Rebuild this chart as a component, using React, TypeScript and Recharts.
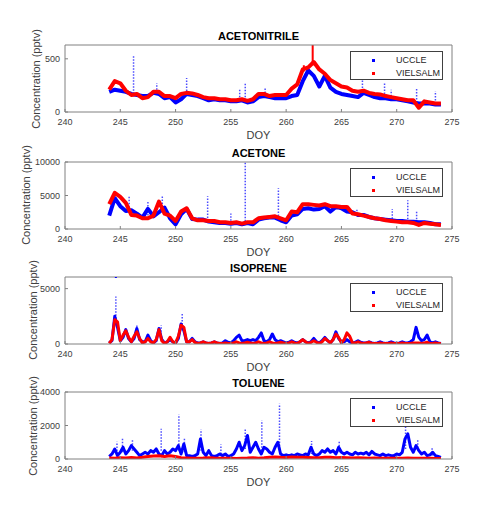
import React from 'react'
import { ComposedChart, Line, Scatter, XAxis, YAxis } from 'recharts'

// sampling grids (day of year)
const doyHalf = Array.from({ length: 61 }, (_, i) => 244 + i * 0.5)
const doyQuarter = Array.from({ length: 121 }, (_, i) => 244 + i * 0.25)
const xTicks = [240, 245, 250, 255, 260, 265, 270, 275]

// ACETONITRILE (pptv), 0.5 day steps
const acnUccle = [
  190, 210, 200, 190, 170, 160, 150, 150, 180, 170,
  130, 140, 90, 120, 170, 160, 150, 130, 110, 120,
  110, 110, 100, 100, 110, 90, 100, 140, 150, 140,
  130, 130, 130, 150, 160, 290, 390, 340, 240, 340,
  230, 190, 170, 160, 150, 140, 180, 160, 140, 130,
  130, 120, 120, 110, 100, 90, 80, 80, 80, 70,
  70,
]
const acnVielsalm = [
  210, 290, 270, 200, 160, 170, 130, 140, 190, 190,
  150, 150, 130, 170, 180, 175, 160, 140, 130, 130,
  120, 120, 110, 110, 120, 105, 120, 170, 170, 150,
  160, 160, 160, 220, 260, 400, 420, 470, 400, 360,
  300, 270, 240, 230, 200, 190, 200, 180, 170, 165,
  150, 140, 130, 120, 110, 110, 40, 100, 90, 80,
  80,
]
const acnSpikeDoy = [246.2, 248.3, 251.0, 255.8, 256.3, 258.1, 266.9, 268.9, 269.5, 271.8, 273.5]
const acnSpikeBase = [200, 180, 170, 110, 110, 150, 170, 140, 120, 90, 80]
const acnSpikeTop = [530, 270, 320, 215, 270, 230, 330, 270, 210, 225, 195]
const acnRedSpikeDoy = [261.6, 262.4]
const acnRedSpikeBase = [380, 450]
const acnRedSpikeTop = [440, 630]

// ACETONE (pptv), 0.5 day steps
const acetUccle = [
  2000, 4600, 3400, 2700, 2800, 2300, 1700, 3000, 1900, 2500,
  3200, 1600, 700, 2200, 3000, 1500, 1400, 1400, 1100, 1000,
  900, 900, 800, 900, 700, 900, 700, 1400, 1600, 1700,
  1700, 1300, 1000, 2000, 2200, 3000, 3100, 2900, 3000, 3400,
  2600, 3300, 3100, 2600, 2500, 2100, 2100, 1800, 1600, 1500,
  1400, 1300, 1200, 1200, 1100, 1100, 1000, 1000, 900, 700,
  700,
]
const acetVielsalm = [
  3700, 5400, 4800, 3900, 2100, 2000, 1600, 1600, 2000, 4100,
  2300, 2000, 1200, 2600, 3100, 1600, 1300, 1300, 1200, 1200,
  1000, 1000, 900, 1000, 800, 1000, 1000, 1600, 1700, 1800,
  1900, 1600, 1300, 2600, 2500, 3700, 3700, 3600, 3500, 3700,
  3400, 3400, 3300, 3300, 2300, 2200, 2000, 1800, 1600, 1500,
  1300, 1200, 1100, 1000, 1000, 900, 600, 900, 800, 700,
  600,
]
const acetSpikeDoy = [244.6, 245.8, 247.5, 248.8, 252.9, 255.0, 256.3, 259.3, 260.4, 266.4, 269.6, 271.0, 271.8]
const acetSpikeBase = [4000, 2800, 2000, 3300, 1200, 800, 700, 1500, 2000, 2200, 1100, 1000, 1000]
const acetSpikeTop = [4900, 4800, 4200, 5000, 4900, 2300, 10000, 6100, 2600, 3100, 3000, 4300, 2600]

// ISOPRENE (pptv), 0.25 day steps
const isoUccle = [
  100, 300, 2500, 1500, 300, 600, 1300, 500, 200, 500, 1400, 400,
  200, 200, 800, 300, 100, 300, 1400, 400, 100, 200, 400, 200,
  100, 500, 1800, 1200, 200, 200, 500, 200, 100, 100, 200, 100,
  50, 100, 200, 100, 50, 100, 300, 150, 100, 300, 600, 800,
  300, 300, 400, 300, 400, 300, 600, 1000, 300, 200, 400, 900,
  400, 200, 300, 200, 100, 150, 300, 150, 100, 200, 400, 200,
  100, 200, 500, 200, 100, 300, 600, 300, 100, 400, 1100, 500,
  200, 200, 400, 200, 100, 150, 300, 150, 100, 100, 200, 100,
  50, 100, 200, 100, 50, 100, 200, 100, 50, 100, 200, 100,
  100, 200, 400, 1500, 600, 300, 400, 800, 200, 100, 200, 100,
  50,
]
const isoVielsalm = [
  50, 400, 2200, 2000, 300, 800, 1200, 600, 200, 700, 1100, 500,
  100, 200, 500, 200, 100, 400, 1300, 300, 50, 200, 600, 200,
  100, 700, 1700, 1500, 200, 200, 400, 150, 50, 100, 200, 100,
  50, 100, 200, 100, 50, 50, 100, 50, 50, 100, 200, 100,
  50, 100, 150, 100, 50, 100, 200, 100, 50, 100, 200, 100,
  50, 100, 150, 100, 50, 100, 200, 100, 50, 200, 400, 200,
  50, 150, 300, 150, 50, 200, 500, 300, 100, 400, 900, 600,
  100, 400, 1000, 700, 100, 100, 200, 100, 50, 100, 150, 50,
  50, 50, 100, 50, 50, 50, 100, 50, 50, 50, 100, 50,
  50, 50, 100, 100, 100, 50, 100, 150, 50, 50, 100, 50,
  50,
]
const isoSpikeDoy = [244.6, 246.5, 248.7, 250.6]
const isoSpikeBase = [2000, 1000, 1100, 1500]
const isoSpikeTop = [4300, 1700, 1700, 2700]
const isoOutlierDoy = [244.6]
const isoOutlierValue = [6050]

// TOLUENE (pptv)
const tolUccle = [
  150, 300, 600, 200, 400, 700, 300, 500, 800, 600, 400, 200,
  300, 400, 300, 500, 400, 600, 300, 200, 500, 300, 400, 600,
  500, 800, 300, 900, 200, 200, 150, 200, 300, 1200, 400, 200,
  500, 200, 150, 200, 300, 200, 300, 150, 200, 300, 600, 1000,
  500, 800, 1400, 400, 700, 1000, 600, 300, 700, 600, 400, 300,
  700, 1000, 300, 200, 250, 200, 250, 200, 300, 250, 200, 300,
  250, 700, 300, 200, 300, 500, 400, 600, 400, 500, 300, 700,
  400, 300, 400, 300, 250, 400, 300, 350, 300, 400, 250, 450,
  300, 250, 200, 300, 200, 250, 200, 200, 300, 250, 400, 1200,
  1500, 700, 400, 800, 500, 300, 400, 200, 250, 400, 200, 150,
  100,
]
const tolVielsalm = [
  60, 50, 80, 60, 90, 60, 100, 150, 180, 200,
  150, 200, 150, 80, 60, 40, 50, 60, 80, 60,
  50, 40, 50, 30, 50, 60, 80, 50, 70, 100,
  120, 100, 90, 120, 100, 110, 90, 70, 80, 100,
  110, 80, 90, 80, 60, 70, 60, 50, 60, 50,
  40, 50, 40, 50, 60, 50, 40, 50, 40, 30,
  30,
]
const tolSpikeDoy = [244.7, 245.2, 246.1, 248.7, 250.3, 250.8, 252.3, 254.1, 256.3, 257.8, 259.4, 262.3, 264.8, 270.8, 271.9, 273.2]
const tolSpikeBase = [300, 400, 500, 500, 500, 400, 500, 300, 600, 500, 600, 300, 400, 600, 500, 200]
const tolSpikeTop = [1030, 1270, 1130, 1800, 2650, 1270, 1760, 870, 1760, 2300, 3300, 1070, 1070, 2250, 1170, 700]

const BLUE = '#0000ff'
const RED = '#ff0000'
const FONT = '"Liberation Sans", Arial, Helvetica, sans-serif'
const PLOT_LEFT = 65
const PLOT_W = 387
const PLOT_H = 67
const MT = 25
const MB = 20
const CH = MT + PLOT_H + MB

type Pt = { doy: number; value: number | null }

const toPoints = (xs: number[], ys: number[]): Pt[] => xs.map((x, i) => ({ doy: x, value: ys[i] }))
const toSpikes = (xs: number[], bases: number[], tops: number[]): Pt[] =>
  xs.flatMap((x, i) => [
    { doy: x, value: bases[i] },
    { doy: x, value: tops[i] },
    { doy: x, value: null },
  ])

interface PanelProps {
  top: number
  title: string
  yMax: number
  yTicks: number[]
  labelX: number
  uccle: Pt[]
  vielsalm: Pt[]
  uccleSpikes: Pt[]
  vielsalmSpikes?: Pt[]
  outliers?: Pt[]
  width?: number
}

function Panel({ top, title, yMax, yTicks, labelX, uccle, vielsalm, uccleSpikes, vielsalmSpikes = [], outliers = [], width = 4 }: PanelProps) {
  const axisColor = '#808080'
  const tickStyle = { fontSize: 9, fill: '#404040', fontFamily: FONT }
  return (
    <>
      <div
        style={{
          position: 'absolute', left: PLOT_LEFT, width: PLOT_W, top: top - 16, textAlign: 'center',
          fontWeight: 'bold', fontSize: 11, lineHeight: '14px', color: '#000', fontFamily: FONT,
        }}
      >
        {title}
      </div>
      <div
        style={{
          position: 'absolute', left: labelX - 60, top: top + PLOT_H / 2 - 7, width: 120, height: 14, textAlign: 'center',
          fontSize: 11, lineHeight: '14px', color: '#404040', fontFamily: FONT, transform: 'rotate(-90deg)',
          whiteSpace: 'nowrap',
        }}
      >
        Concentration (pptv)
      </div>
      <div style={{ position: 'absolute', left: 0, top: top - MT, width: 500, height: CH }}>
        <ComposedChart width={500} height={CH} margin={{ top: MT - 1, right: 47, bottom: 0, left: 25 }}>
          <XAxis
            xAxisId="b" dataKey="doy" type="number" domain={[240, 275]} ticks={xTicks}
            allowDataOverflow height={MB} tickSize={-3} tickMargin={10}
            stroke={axisColor} tick={tickStyle} interval={0}
          />
          <XAxis
            xAxisId="t" orientation="top" dataKey="doy" type="number" domain={[240, 275]} ticks={xTicks}
            allowDataOverflow height={1} tickSize={-3} tick={false} stroke={axisColor} interval={0}
          />
          <YAxis
            yAxisId="l" type="number" domain={[0, yMax]} ticks={yTicks} allowDataOverflow
            width={40} tickSize={-3} tickMargin={8} stroke={axisColor} tick={tickStyle} interval={0}
          />
          <YAxis
            yAxisId="r" orientation="right" type="number" domain={[0, yMax]} ticks={yTicks} allowDataOverflow
            width={1} tickSize={-3} tick={false} stroke={axisColor} interval={0}
          />
          <Line
            xAxisId="b" yAxisId="l" data={uccleSpikes} dataKey="value" stroke={BLUE} strokeWidth={1.5}
            strokeDasharray="1.5 1.5" strokeOpacity={0.7} dot={false} isAnimationActive={false} activeDot={false}
          />
          <Line
            xAxisId="b" yAxisId="l" data={uccle} dataKey="value" stroke={BLUE} strokeWidth={width}
            strokeLinejoin="round" dot={false} isAnimationActive={false} activeDot={false}
          />
          <Line
            xAxisId="b" yAxisId="l" data={vielsalm} dataKey="value" stroke={RED} strokeWidth={width}
            strokeLinejoin="round" dot={false} isAnimationActive={false} activeDot={false}
          />
          <Line
            xAxisId="b" yAxisId="l" data={vielsalmSpikes} dataKey="value" stroke={RED} strokeWidth={2}
            dot={false} isAnimationActive={false} activeDot={false}
          />
          <Scatter
            xAxisId="b" yAxisId="l" data={outliers} dataKey="value" fill={BLUE} isAnimationActive={false}
            shape={(p: any) => <rect x={p.cx - 1} y={p.cy - 1} width={2} height={2} fill={BLUE} />}
          />
        </ComposedChart>
      </div>
      <div
        style={{
          position: 'absolute', left: PLOT_LEFT, width: PLOT_W, top: top + PLOT_H + 16, textAlign: 'center',
          fontSize: 11, lineHeight: '14px', color: '#404040', fontFamily: FONT,
        }}
      >
        DOY
      </div>
      <div
        style={{
          position: 'absolute', left: 350, top: top + 6, width: 91, height: 27, border: '1px solid #404040',
          background: '#fff', fontFamily: FONT, fontSize: 9, color: '#262626',
        }}
      >
        {[{ name: 'UCCLE', color: BLUE }, { name: 'VIELSALM', color: RED }].map((item, i) => (
          <div key={item.name} style={{ position: 'absolute', left: 0, top: 2 + i * 13, height: 12, width: 91 }}>
            <span style={{ position: 'absolute', left: 21, top: 5, width: 3, height: 3, background: item.color }} />
            <span style={{ position: 'absolute', left: 45, top: 0, lineHeight: '12px' }}>{item.name}</span>
          </div>
        ))}
      </div>
    </>
  )
}

export default function App() {
  return (
    <div style={{ position: 'absolute', left: 0, top: 0, width: 500, height: 527, background: '#fff', overflow: 'hidden' }}>
      <Panel
        top={45} title="ACETONITRILE" yMax={630} yTicks={[0, 500]} labelX={36}
        uccle={toPoints(doyHalf, acnUccle)} vielsalm={toPoints(doyHalf, acnVielsalm)}
        uccleSpikes={toSpikes(acnSpikeDoy, acnSpikeBase, acnSpikeTop)}
        vielsalmSpikes={toSpikes(acnRedSpikeDoy, acnRedSpikeBase, acnRedSpikeTop)}
      />
      <Panel
        top={161.5} title="ACETONE" yMax={10000} yTicks={[0, 5000, 10000]} labelX={26}
        uccle={toPoints(doyHalf, acetUccle)} vielsalm={toPoints(doyHalf, acetVielsalm)}
        uccleSpikes={toSpikes(acetSpikeDoy, acetSpikeBase, acetSpikeTop)}
      />
      <Panel
        top={276.5} title="ISOPRENE" yMax={6050} yTicks={[0, 5000]} labelX={33} width={3}
        uccle={toPoints(doyQuarter, isoUccle)} vielsalm={toPoints(doyQuarter, isoVielsalm)}
        uccleSpikes={toSpikes(isoSpikeDoy, isoSpikeBase, isoSpikeTop)}
        outliers={toPoints(isoOutlierDoy, isoOutlierValue)}
      />
      <Panel
        top={392} title="TOLUENE" yMax={4000} yTicks={[0, 2000, 4000]} labelX={33} width={3}
        uccle={toPoints(doyQuarter, tolUccle)} vielsalm={toPoints(doyHalf, tolVielsalm)}
        uccleSpikes={toSpikes(tolSpikeDoy, tolSpikeBase, tolSpikeTop)}
      />
    </div>
  )
}
